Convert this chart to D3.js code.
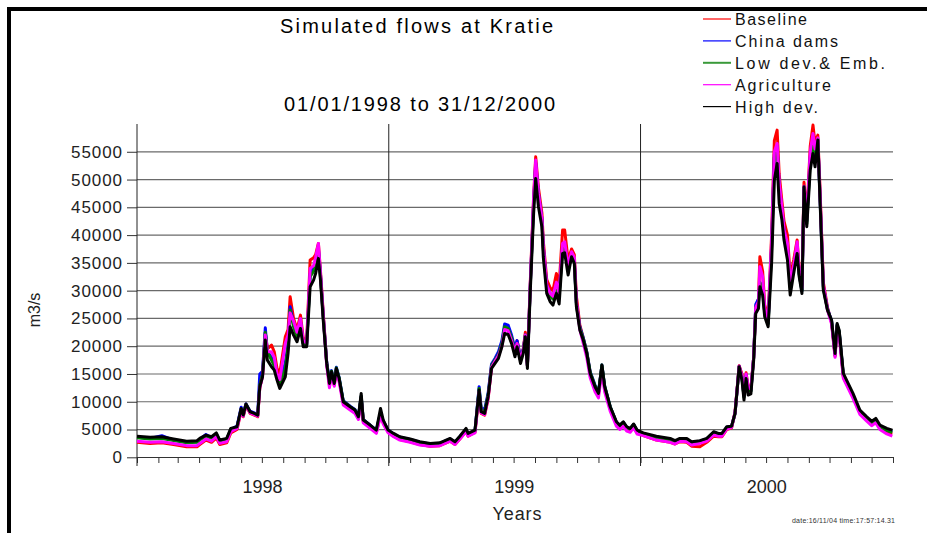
<!DOCTYPE html>
<html>
<head>
<meta charset="utf-8">
<script src="https://cdn.jsdelivr.net/npm/d3@7"></script>
<style>
  html, body { margin: 0; padding: 0; background: #fff; }
  svg { display: block; font-family: "Liberation Sans", Arial, sans-serif; }
</style>
</head>
<body>
<svg id="chart" width="927" height="533"></svg>
<script>
// Simulated flows at Kratie, 01/01/1998 - 31/12/2000 (m3/s)
// values, days counted from 01/01/1998

const DAYS = [
  0, 19, 36, 53, 72, 87, 91, 100, 108, 115, 120, 130, 136, 145, 151, 154, 158, 164, 170, 175,
  178, 182, 186, 189, 195, 199, 203, 207, 215, 219, 222, 227, 232, 237, 241, 246, 251, 256, 259, 263, 266, 270, 275, 279, 282, 286, 289, 293, 299,
  309, 316, 321, 325, 328, 338, 347, 353, 357, 364, 372, 381, 396, 410, 425, 439, 454, 461, 468, 477, 480, 490,
  496, 499, 504, 509, 514, 519, 524, 529, 533, 538, 543, 548, 551, 556, 560, 563, 566, 570, 575, 578,
  582, 587, 589, 594, 599, 603, 608, 612, 617, 620, 625, 630, 634, 637, 642, 647, 652, 657, 664, 669,
  674, 678, 686, 695, 700, 705, 710, 715, 720, 725,
  734, 753, 773, 780, 787, 797, 804, 816, 826, 836, 843, 848, 855, 862, 867,
  873, 877, 880, 883, 886, 890, 894, 897, 901, 903, 907, 910, 915, 920, 924, 928, 931, 935, 938, 943,
  947, 952, 957, 960, 964, 967, 971, 976, 980, 983, 987, 990, 995, 1001, 1007, 1012, 1015, 1018, 1024, 1031,
  1038, 1048, 1058, 1065, 1071, 1077, 1087, 1095
];

const BASELINE = [
  2700, 2500, 2600, 2300, 1900, 1900, 2300, 3100, 2700, 3500, 2300, 2600, 4400, 5000, 8400, 7300, 9300, 7900, 7600, 7300,
  12500, 14800, 22500, 19500, 20200, 19000, 16000, 15100, 21700, 23000, 28900, 25000, 23000, 25600, 21500, 21000, 35500, 35900, 36500, 38500, 33500, 26000, 17000, 13000, 15200, 13000, 15800, 14000, 9800,
  8700, 8100, 7000, 10800, 6400, 5400, 4500, 7700, 6200, 4600, 3800, 3200, 2800, 2300, 2000, 2100, 2900, 2300, 3300, 4700, 3800, 4500,
  11500, 7900, 7600, 10500, 16300, 17500, 18500, 20500, 23200, 23000, 21500, 19500, 21000, 18000, 19500, 22500, 16500, 31000, 47000, 54100,
  48500, 44000, 39000, 32000, 30500, 30000, 33100, 31000, 40900, 40900, 35500, 37500, 36500, 29000, 23800, 21500, 19000, 15200, 12600, 11300,
  16400, 12400, 8700, 6000, 5300, 5900, 5000, 4700, 5500, 4400,
  3900, 3100, 2700, 2400, 2800, 2700, 2000, 1900, 2700, 3800, 3700, 3700, 5000, 5300, 8200,
  16500, 15000, 11500, 15200, 12800, 12500, 18000, 27000, 28500, 36100, 33500, 27500, 25000, 40000, 57000, 58900, 51000, 46000, 42500, 40000,
  32500, 35500, 39100, 34000, 31000, 49500, 43500, 56000, 59800, 56500, 58000, 49000, 31500, 27000, 24200, 18200, 23600, 22300, 14500, 12700,
  10900, 8000, 6800, 6000, 6500, 5300, 4500, 4200
];

const CHINA_DAMS = [
  3600, 3400, 3900, 3100, 2700, 2800, 3200, 4100, 3500, 4200, 3000, 3200, 5000, 5600, 9000, 7800, 9600, 8300, 8000, 7700,
  15000, 15500, 23300, 19000, 18000, 16500, 14500, 13500, 17000, 20500, 27100, 24000, 22000, 24500, 20500, 20300, 33000, 34000, 35000, 37500, 33000, 25500, 17200, 13700, 15600, 13600, 16200, 14400, 10200,
  9200, 8600, 7400, 11000, 6800, 5800, 4900, 8000, 6500, 4900, 4200, 3600, 3200, 2700, 2400, 2500, 3300, 2700, 3700, 5000, 4200, 4800,
  12700, 8800, 8600, 11500, 16800, 17800, 19000, 21000, 24000, 23800, 22000, 19500, 21000, 18000, 19500, 22000, 16500, 30500, 46000, 53000,
  47500, 43000, 38000, 31000, 29500, 29000, 31000, 29500, 38000, 38000, 34000, 36800, 35500, 27800, 23500, 21500, 19000, 15400, 13000, 11700,
  16600, 12800, 9100, 6300, 5700, 6300, 5400, 5100, 5900, 4800,
  4200, 3500, 3100, 2800, 3300, 3200, 2600, 2900, 3300, 4500, 4200, 4200, 5400, 5600, 7900,
  16400, 14500, 11000, 14800, 12200, 12000, 18000, 27500, 28500, 31500, 30500, 26000, 24200, 38000, 54500, 56000, 49000, 44500, 41000, 38000,
  31000, 34000, 38000, 33000, 30000, 48500, 42500, 54000, 57500, 55000, 57300, 47500, 30800, 26800, 24500, 18500, 23800, 22600, 14800, 13000,
  11200, 8200, 7000, 6200, 6700, 5500, 4900, 4600
];

const LOW_DEV = [
  3500, 3300, 3400, 3000, 2600, 2700, 3100, 3800, 3400, 4100, 2900, 3200, 5000, 5400, 8700, 7500, 9500, 8100, 7800, 7500,
  13000, 15000, 22500, 19000, 17500, 16500, 14500, 13200, 16000, 20000, 26500, 23500, 21500, 24000, 20500, 20300, 32500, 33500, 34500, 37000, 32500, 25200, 17000, 13500, 15500, 13500, 16100, 14300, 10100,
  9100, 8500, 7300, 11000, 6800, 5700, 4800, 8000, 6500, 4800, 4100, 3500, 3100, 2600, 2300, 2400, 3200, 2600, 3600, 4900, 4100, 4700,
  12400, 8500, 8300, 11200, 16500, 17500, 18500, 20500, 23500, 23200, 21500, 19000, 20500, 17500, 19300, 22000, 16500, 30200, 45500, 52500,
  47000, 42500, 37500, 30500, 29000, 28500, 30500, 29000, 37500, 37800, 33800, 36500, 35300, 27500, 23300, 21300, 18900, 15300, 12900, 11600,
  16600, 12800, 9100, 6300, 5700, 6300, 5400, 5100, 5900, 4800,
  4100, 3400, 3000, 2700, 3200, 3100, 2500, 2800, 3200, 4400, 4100, 4100, 5300, 5500, 7800,
  16300, 14300, 10800, 14600, 12000, 11900, 18000, 27000, 28000, 31500, 30500, 26000, 24000, 37500, 54000, 55500, 48500, 44000, 40500, 37500,
  30500, 34000, 37800, 33000, 30000, 48500, 42000, 53500, 57000, 54500, 57200, 47500, 30500, 26600, 24400, 18400, 23800, 22600, 14800, 12900,
  11100, 8100, 6900, 6100, 6600, 5400, 4800, 4500
];

const AGRICULTURE = [
  2900, 2700, 2800, 2500, 2100, 2100, 2500, 3300, 2900, 3700, 2500, 2800, 4600, 5200, 8500, 7400, 9400, 8000, 7700, 7400,
  12500, 14500, 22000, 19000, 19000, 18000, 15000, 14000, 20500, 22000, 26000, 24500, 22500, 25000, 21000, 20500, 34000, 34500, 36000, 38500, 33000, 25500, 16500, 12500, 14800, 12800, 15500, 13600, 9400,
  8500, 7900, 6800, 10500, 6200, 5200, 4300, 7500, 6000, 4400, 3700, 3100, 2700, 2200, 2000, 2100, 2900, 2300, 3300, 4600, 3800, 4400,
  11800, 8000, 7700, 10600, 16200, 17300, 18300, 20000, 23000, 22800, 21000, 19000, 20500, 17500, 19300, 22000, 16500, 30500, 46500, 53500,
  47500, 43000, 38000, 31000, 29500, 29000, 31500, 29500, 38500, 38800, 34500, 37000, 36000, 28000, 23000, 20500, 18000, 14300, 11800, 10700,
  15500, 11800, 8300, 5600, 5000, 5600, 4700, 4500, 5300, 4200,
  3900, 3100, 2700, 2400, 2900, 2800, 2200, 2500, 2900, 4000, 3800, 3800, 5100, 5400, 8000,
  16400, 14600, 11200, 15000, 12500, 12300, 18000, 27000, 28000, 34300, 32500, 27000, 24500, 39000, 55000, 56500, 49500, 45000, 41000, 38500,
  31500, 34500, 38800, 33500, 30500, 48800, 43000, 55000, 58300, 55500, 57500, 48000, 31000, 26500, 24000, 18000, 23400, 22000, 14200, 12400,
  10600, 7700, 6500, 5700, 6200, 5000, 4200, 3800
];

const HIGH_DEV = [
  3800, 3600, 3700, 3300, 2900, 3000, 3400, 4000, 3700, 4400, 3100, 3400, 5200, 5500, 8800, 7600, 9600, 8200, 7900, 7600,
  12700, 14500, 21100, 17500, 16300, 15700, 13900, 12400, 14500, 18700, 23500, 22000, 20800, 23200, 19900, 19900, 30700, 31900, 33100, 35800, 31900, 24700, 16900, 13300, 15400, 13300, 16000, 14200, 10000,
  9100, 8500, 7300, 11500, 6700, 5800, 4900, 8800, 6700, 4900, 4300, 3700, 3300, 2800, 2500, 2600, 3400, 2800, 3800, 5200, 4300, 4900,
  12100, 8200, 7900, 10900, 16000, 16900, 17800, 19900, 22300, 22100, 20500, 18100, 19900, 16900, 18700, 21700, 16000, 29500, 43900, 50200,
  45100, 41500, 36100, 29500, 28000, 27400, 29500, 27600, 36700, 36800, 32800, 36100, 34900, 27100, 22900, 21100, 18700, 15100, 12700, 11500,
  16600, 12700, 9100, 6400, 5800, 6400, 5500, 5200, 6000, 4900,
  4400, 3800, 3400, 3000, 3400, 3400, 2800, 3000, 3400, 4600, 4300, 4300, 5500, 5600, 7900,
  16300, 13900, 10300, 14200, 11200, 11400, 17500, 25900, 26800, 30700, 29200, 25300, 23500, 34900, 49900, 52900, 45700, 42700, 39100, 35500,
  29200, 33100, 36700, 32500, 29500, 48700, 41500, 51700, 54700, 52300, 57100, 46900, 30100, 26500, 24700, 18700, 24100, 22900, 15100, 13300,
  11500, 8500, 7300, 6500, 7000, 5800, 5200, 4900
];

const SERIES_NAMES = ["Baseline", "China dams", "Low dev.& Emb.", "Agriculture", "High dev."];
const SERIES_VALUES = [BASELINE, CHINA_DAMS, LOW_DEV, AGRICULTURE, HIGH_DEV];
const SERIES_COLORS = ["#ff0000", "#0000ff", "#008000", "#ff00ff", "#000000"];
const LEGEND_WIDTH = [72, 103, 150, 96, 83];

const Y_TICKS = [0, 5000, 10000, 15000, 20000, 25000, 30000, 35000, 40000, 45000, 50000, 55000];
const YEARS = [1998, 1999, 2000];

// ---------- scales ----------
const svg = d3.select("#chart");
const start = new Date(1998, 0, 1);
const dateOf = (d) => d3.timeDay.offset(start, d);
const x = d3.scaleTime().domain([start, new Date(2001, 0, 1)]).range([137, 893]);
const y = d3.scaleLinear().domain([0, 60000]).range([457.3, 124]);

// outer frame (only top and left edges fall inside the picture)
svg.append("rect")
  .attr("x", 9).attr("y", 9).attr("width", 1000).attr("height", 600)
  .attr("fill", "none").attr("stroke", "#000").attr("stroke-width", 4);

// ---------- titles ----------
svg.append("text").attr("x", 280).attr("y", 33)
  .attr("font-size", 20).attr("textLength", 273).attr("lengthAdjust", "spacing")
  .text("Simulated flows at Kratie");
svg.append("text").attr("x", 284).attr("y", 111)
  .attr("font-size", 20).attr("textLength", 271).attr("lengthAdjust", "spacing")
  .text("01/01/1998 to 31/12/2000");

// ---------- grid ----------
svg.append("g").selectAll("line")
  .data(Y_TICKS.filter((v) => v > 0))
  .join("line")
  .attr("x1", 137).attr("x2", 893)
  .attr("y1", (v) => y(v)).attr("y2", (v) => y(v))
  .attr("stroke", "#6a6a6a").attr("stroke-width", 1.2);

// ---------- axes ----------
const yAxis = svg.append("g")
  .attr("transform", "translate(137,0)")
  .call(d3.axisLeft(y).tickValues(Y_TICKS).tickSize(10).tickPadding(5).tickFormat(d3.format("d")));
yAxis.select(".domain").remove();
yAxis.selectAll(".tick line").attr("stroke", "#333");
yAxis.selectAll(".tick text")
  .attr("font-size", 17).attr("fill", "#222")
  .attr("font-family", "'Liberation Sans', Arial, sans-serif")
  .attr("textLength", (v) => String(v).length * 10.2)
  .attr("lengthAdjust", "spacing");

const xAxis = svg.append("g")
  .attr("transform", "translate(0,457)")
  .call(d3.axisBottom(x).ticks(d3.timeMonth.every(1)).tickSize(6).tickSizeOuter(0).tickFormat(""));
xAxis.select(".domain").attr("stroke", "#333");
xAxis.selectAll(".tick line").attr("stroke", "#333");

// year separators
svg.append("g").selectAll("line")
  .data(YEARS)
  .join("line")
  .attr("x1", (yr) => x(new Date(yr, 0, 1))).attr("x2", (yr) => x(new Date(yr, 0, 1)))
  .attr("y1", 124).attr("y2", 466)
  .attr("stroke", "#222").attr("stroke-width", 1);

svg.append("g").selectAll("text")
  .data(YEARS)
  .join("text")
  .attr("x", (yr) => x(new Date(yr, 6, 2)))
  .attr("y", 493)
  .attr("text-anchor", "middle")
  .attr("font-size", 18).attr("fill", "#222")
  .attr("textLength", 40).attr("lengthAdjust", "spacing")
  .text((yr) => yr);

svg.append("text").attr("x", 517).attr("y", 520)
  .attr("text-anchor", "middle").attr("font-size", 18).attr("fill", "#222")
  .attr("textLength", 49).attr("lengthAdjust", "spacing")
  .text("Years");

svg.append("text")
  .attr("transform", "translate(40,310) rotate(-90)")
  .attr("text-anchor", "middle").attr("font-size", 16).attr("fill", "#222")
  .text("m3/s");

// ---------- series ----------
const line = d3.line()
  .x((v, i) => x(dateOf(DAYS[i])))
  .y((v) => y(v));

svg.append("g").selectAll("path")
  .data(SERIES_VALUES)
  .join("path")
  .attr("d", line)
  .attr("fill", "none")
  .attr("stroke", (v, i) => SERIES_COLORS[i])
  .attr("stroke-width", 3)
  .attr("stroke-linejoin", "round");

// ---------- legend ----------
const legend = svg.append("g").selectAll("g")
  .data(SERIES_NAMES)
  .join("g")
  .attr("transform", (n, i) => `translate(703,${19 + i * 21.9})`);
legend.append("line")
  .attr("x1", 0).attr("x2", 28)
  .attr("stroke", (n, i) => SERIES_COLORS[i] === "#008000" ? "#3a9a3a" : SERIES_COLORS[i])
  .attr("stroke-width", (n, i) => (i === 2 ? 2 : 1.2));
legend.append("text")
  .attr("x", 32).attr("y", 6)
  .attr("font-size", 16).attr("fill", "#111")
  .attr("textLength", (n, i) => LEGEND_WIDTH[i]).attr("lengthAdjust", "spacing")
  .text((n) => n);

// time stamp
svg.append("text").attr("x", 792).attr("y", 523)
  .attr("font-size", 7).attr("fill", "#333")
  .attr("textLength", 103).attr("lengthAdjust", "spacing")
  .text("date:16/11/04  time:17:57:14.31");
</script>
</body>
</html>
